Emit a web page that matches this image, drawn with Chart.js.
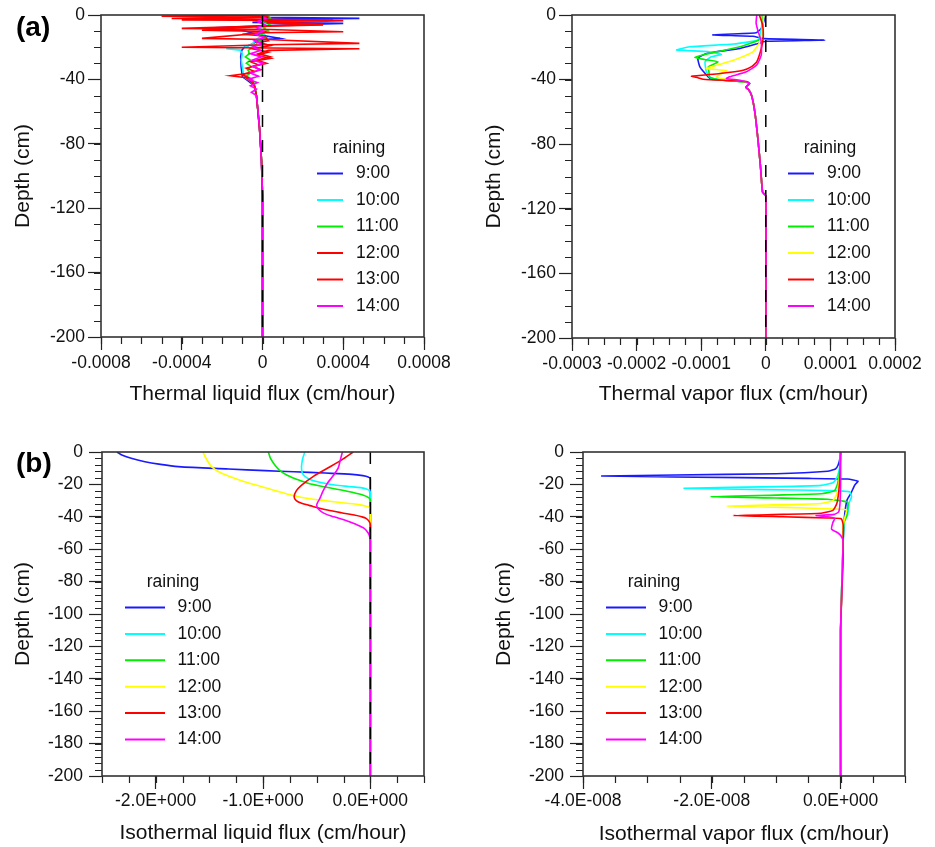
<!DOCTYPE html>
<html lang="en">
<head>
<meta charset="UTF-8" />
<title>Flux profiles</title>
<script src="https://cdn.jsdelivr.net/npm/chart.js"></script>
<style>
  body { margin: 0; background: #fff; }
  #wrap { position: relative; width: 935px; height: 847px; }
  canvas { position: absolute; }
</style>
</head>
<body>
<div id="wrap">
  <canvas id="tl" width="467" height="420" style="left:0;top:0"></canvas>
  <canvas id="tr" width="468" height="420" style="left:467px;top:0"></canvas>
  <canvas id="bl" width="467" height="427" style="left:0;top:420px"></canvas>
  <canvas id="br" width="468" height="427" style="left:467px;top:420px"></canvas>
</div>
<script>
const FONT = '"Liberation Sans", Arial, sans-serif';
Chart.defaults.font.family = FONT;

const timeLabels = ["9:00", "10:00", "11:00", "12:00", "13:00", "14:00"];
const colorsA = ["#1a1aff", "#00ffff", "#00ee00", "#ff0000", "#ff0000", "#ff00ff"];
const colorsB = ["#1a1aff", "#00ffff", "#00ee00", "#ffff00", "#ff0000", "#ff00ff"];

// axis ticks
const depthTicksA = [-200, -160, -120, -80, -40, 0];
const depthTicksB = [-200, -180, -160, -140, -120, -100, -80, -60, -40, -20, 0];
const tlXTicks = [-0.0008, -0.0004, 0, 0.0004, 0.0008];
const tlXLabels = ["-0.0008", "-0.0004", "0", "0.0004", "0.0008"];
const trXTicks = [-0.0003, -0.0002, -0.0001, 0, 0.0001, 0.0002];
const trXLabels = ["-0.0003", "-0.0002", "-0.0001", "0", "0.0001", "0.0002"];
const blXTicks = [-2, -1, 0];
const blXLabels = ["-2.0E+000", "-1.0E+000", "0.0E+000"];
const brXTicks = [-4e-8, -2e-8, 0];
const brXLabels = ["-4.0E-008", "-2.0E-008", "0.0E+000"];

// zero reference line
const zeroDepth = [0, -200];
const zeroFlux = [0, 0];

// (a) thermal liquid flux
const tl09Depth = [0, -1.5, -2.1, -2.7, -4.0, -4.6, -5.2, -6.5, -8.3, -9.5, -12, -14.5, -15.5, -18, -20, -22, -26, -32, -38.3, -41, -44, -50, -70, -90, -112, -200];
const tl09Flux = [0, 0.1e-4, 4.8e-4, 0.1e-4, 0.2e-4, -0.5e-4, 4.0e-4, 0.3e-4, -3.0e-4, -1.0e-4, -0.3e-4, 0.87e-4, -0.2e-4, -0.5e-4, -0.9e-4, -1.03e-4, -1.08e-4, -1.06e-4, -1.0e-4, -0.7e-4, -0.4e-4, -0.3e-4, -0.15e-4, -0.05e-4, 0, 0];
const tl10Depth = [0, -3, -6, -9, -12, -15, -18, -20, -21, -21.8, -24, -28, -32, -36, -38.5, -41, -44, -50, -70, -90, -112, -200];
const tl10Flux = [0.1e-4, -0.1e-4, 0.15e-4, -0.2e-4, 0.1e-4, -0.3e-4, -0.5e-4, -0.9e-4, -1.8e-4, -1.1e-4, -1.0e-4, -1.05e-4, -1.0e-4, -0.95e-4, -0.9e-4, -0.6e-4, -0.4e-4, -0.3e-4, -0.15e-4, -0.05e-4, 0, 0];
const tl11Depth = [0, -2, -4, -6, -8, -10, -12, -14, -16, -18, -20, -22, -24, -26, -28, -30, -32, -34, -36, -38, -40, -43, -50, -70, -90, -112, -200];
const tl11Flux = [0.2e-4, 0.4e-4, 0.1e-4, 0.35e-4, 0.05e-4, 0.3e-4, -0.1e-4, 0.2e-4, -0.2e-4, -0.3e-4, -0.5e-4, -0.7e-4, -0.65e-4, -0.85e-4, -0.6e-4, -0.8e-4, -0.55e-4, -0.75e-4, -0.6e-4, -0.8e-4, -0.5e-4, -0.4e-4, -0.3e-4, -0.15e-4, -0.05e-4, 0, 0];
const tl12Depth = [0, -0.8, -1.5, -3.0, -3.5, -5.0, -5.8, -8.3, -9.0, -10.4, -11, -14.5, -15.2, -17.6, -18.5, -20, -21, -22, -24, -26, -28, -30, -32, -34, -36, -37.7, -39, -41, -44, -50, -70, -90, -112, -200];
const tl12Flux = [0, -5.0e-4, 0.2e-4, -4.0e-4, 4.0e-4, 0.2e-4, 3.0e-4, -4.0e-4, 0.3e-4, 4.0e-4, 0.1e-4, -3.0e-4, 0.2e-4, 4.8e-4, 0.2e-4, -4.0e-4, 4.8e-4, 0.3e-4, -0.2e-4, 0.4e-4, -0.3e-4, 0.2e-4, -0.5e-4, -0.1e-4, -0.6e-4, -1.6e-4, -0.8e-4, -0.6e-4, -0.4e-4, -0.3e-4, -0.15e-4, -0.05e-4, 0, 0];
const tl13Depth = [0, -1, -2.2, -3.1, -4, -6.2, -7, -9.5, -10.2, -12, -13, -16, -17, -19, -21, -23, -25, -27, -29, -31, -33, -35, -37, -39, -41, -44, -50, -70, -90, -112, -200];
const tl13Flux = [0, 0.2e-4, -4.5e-4, 3.5e-4, 0.1e-4, 3.0e-4, 0.1e-4, -3.0e-4, 0.2e-4, -1.0e-4, 0.1e-4, 0.3e-4, -0.2e-4, 0.4e-4, -0.5e-4, 0.3e-4, -0.3e-4, 0.4e-4, -0.6e-4, -0.2e-4, -0.8e-4, -0.4e-4, -1.0e-4, -0.7e-4, -0.5e-4, -0.4e-4, -0.3e-4, -0.15e-4, -0.05e-4, 0, 0];
const tl14Depth = [0, -2, -4, -6, -8, -10, -12, -14, -16, -18, -20, -22, -24, -26, -28, -30, -32, -34, -36, -38, -40, -42, -44, -46, -48, -50, -60, -70, -84, -100, -112, -200];
const tl14Flux = [-0.1e-4, 0.15e-4, -0.25e-4, 0.1e-4, -0.3e-4, 0.05e-4, -0.35e-4, 0.1e-4, -0.4e-4, 0, -0.5e-4, -0.1e-4, -0.6e-4, -0.05e-4, -0.5e-4, 0.05e-4, -0.45e-4, -0.1e-4, -0.6e-4, -0.2e-4, -0.7e-4, -0.25e-4, -0.6e-4, -0.3e-4, -0.55e-4, -0.3e-4, -0.22e-4, -0.15e-4, -0.08e-4, -0.03e-4, 0, 0];

// (a) thermal vapor flux
const tr09Depth = [0, -4, -8.3, -11, -12.3, -13.2, -14.6, -15.5, -16.3, -18, -20.7, -23.8, -26.9, -32.1, -38.3, -39.7, -41.4, -42.4, -44.8, -46, -49.8, -60, -77.6, -95, -109.7, -112, -200];
const tr09Flux = [0, -0.03e-4, -0.07e-4, -0.15e-4, -0.82e-4, -0.2e-4, -0.02e-4, 0.91e-4, 0, -0.15e-4, -0.4e-4, -0.92e-4, -1.05e-4, -1.02e-4, -0.89e-4, -0.84e-4, -0.3e-4, -0.25e-4, -0.31e-4, -0.27e-4, -0.22e-4, -0.17e-4, -0.12e-4, -0.08e-4, -0.05e-4, 0, 0];
const tr10Depth = [0, -5, -11, -15.5, -18, -19.7, -21.7, -22.6, -24.4, -26, -29, -35.2, -38.3, -39.5, -41, -42.4, -44.8, -46, -49.8, -60, -77.6, -95, -109.7, -112, -200];
const tr10Flux = [-0.07e-4, -0.06e-4, -0.08e-4, -0.12e-4, -0.5e-4, -1.18e-4, -1.38e-4, -0.9e-4, -0.69e-4, -0.85e-4, -0.94e-4, -0.92e-4, -0.87e-4, -0.8e-4, -0.4e-4, -0.25e-4, -0.31e-4, -0.27e-4, -0.22e-4, -0.17e-4, -0.12e-4, -0.08e-4, -0.05e-4, 0, 0];
const tr11Depth = [0, -6, -12, -15, -19.7, -22.8, -24.5, -26.3, -27.5, -29, -32.1, -35, -38.5, -40, -41.5, -42.4, -44.8, -46, -49.8, -60, -77.6, -95, -109.7, -112, -200];
const tr11Flux = [-0.04e-4, -0.05e-4, -0.06e-4, -0.08e-4, -0.4e-4, -0.76e-4, -0.95e-4, -1.1e-4, -0.95e-4, -0.74e-4, -0.89e-4, -0.88e-4, -0.87e-4, -0.75e-4, -0.35e-4, -0.25e-4, -0.31e-4, -0.27e-4, -0.22e-4, -0.17e-4, -0.12e-4, -0.08e-4, -0.05e-4, 0, 0];
const tr12Depth = [0, -8, -16.6, -22.8, -28, -31, -33.1, -34.5, -36.5, -38.5, -40, -41.5, -42.4, -44.8, -46, -49.8, -60, -77.6, -95, -109.7, -112, -200];
const tr12Flux = [-0.03e-4, -0.05e-4, -0.09e-4, -0.2e-4, -0.5e-4, -0.75e-4, -0.92e-4, -0.61e-4, -0.7e-4, -0.76e-4, -0.6e-4, -0.3e-4, -0.25e-4, -0.31e-4, -0.27e-4, -0.22e-4, -0.17e-4, -0.12e-4, -0.08e-4, -0.05e-4, 0, 0];
const tr13Depth = [0, -6, -14, -20.7, -29, -32, -34.2, -36.2, -37.9, -38.8, -39.8, -41.2, -42.4, -44.8, -46, -49.8, -60, -77.6, -95, -109.7, -112, -200];
const tr13Flux = [-0.1e-4, -0.05e-4, -0.04e-4, -0.07e-4, -0.14e-4, -0.22e-4, -0.35e-4, -0.71e-4, -1.15e-4, -1.05e-4, -0.97e-4, -0.3e-4, -0.25e-4, -0.31e-4, -0.27e-4, -0.22e-4, -0.17e-4, -0.12e-4, -0.08e-4, -0.05e-4, 0, 0];
const tr14Depth = [0, -5, -10, -16.6, -24.8, -31, -35.2, -38.3, -39.3, -40.4, -41.5, -42.4, -44.8, -46, -49.8, -60, -77.6, -95, -109.7, -112, -200];
const tr14Flux = [-0.14e-4, -0.15e-4, -0.12e-4, -0.07e-4, -0.07e-4, -0.14e-4, -0.3e-4, -0.56e-4, -0.61e-4, -0.4e-4, -0.3e-4, -0.25e-4, -0.31e-4, -0.27e-4, -0.22e-4, -0.17e-4, -0.12e-4, -0.08e-4, -0.05e-4, 0, 0];

// (b) isothermal liquid flux
const bl09Depth = [0, -2, -4, -6, -7.5, -9, -10.5, -11.5, -12.2, -13, -13.8, -14.6, -15.4, -16.5, -200];
const bl09Flux = [-2.36, -2.31, -2.22, -2.1, -1.97, -1.79, -1.32, -0.98, -0.71, -0.42, -0.17, -0.07, -0.02, 0, 0];
const bl10Depth = [0, -4, -8, -11, -13.5, -15.5, -17.3, -19, -20.4, -21.3, -22, -23, -24.5, -200];
const bl10Flux = [-0.61, -0.63, -0.64, -0.64, -0.63, -0.6, -0.55, -0.45, -0.33, -0.2, -0.09, -0.03, 0, 0];
const bl11Depth = [0, -4, -8, -11, -14.2, -17, -19.3, -21.5, -23.5, -25, -26.5, -28, -29.5, -200];
const bl11Flux = [-0.95, -0.93, -0.89, -0.85, -0.78, -0.68, -0.58, -0.43, -0.27, -0.16, -0.07, -0.02, 0, 0];
const bl12Depth = [0, -4, -9, -13, -16.3, -19, -21.4, -24, -27, -29, -30.2, -31.5, -32.5, -33.5, -35, -200];
const bl12Flux = [-1.56, -1.53, -1.48, -1.39, -1.26, -1.14, -1.01, -0.88, -0.71, -0.55, -0.4, -0.24, -0.11, -0.04, 0, 0];
const bl13Depth = [0, -5, -10, -15, -20.4, -24, -27.6, -30, -31.7, -33.5, -35.8, -37.5, -38.9, -40, -41, -43, -45, -200];
const bl13Flux = [-0.16, -0.27, -0.4, -0.53, -0.64, -0.69, -0.71, -0.69, -0.64, -0.54, -0.4, -0.27, -0.15, -0.08, -0.04, -0.01, 0, 0];
const bl14Depth = [0, -5, -10, -15, -19.3, -24, -28.6, -32.7, -35.5, -37.9, -40, -42, -44.5, -47, -50, -52.5, -55, -200];
const bl14Flux = [-0.26, -0.28, -0.3, -0.35, -0.4, -0.44, -0.47, -0.5, -0.48, -0.43, -0.34, -0.24, -0.14, -0.06, -0.02, -0.005, 0, 0];

// (b) isothermal vapor flux
const br09Depth = [0, -4, -8.2, -10.5, -11.9, -13.4, -14.2, -14.8, -15.4, -16.3, -16.7, -18, -20.4, -25.5, -29.6, -40, -55, -110, -200];
const br09Flux = [0, -0.01e-8, -0.04e-8, -0.08e-8, -0.2e-8, -1.0e-8, -2.57e-8, -3.71e-8, -2.6e-8, -0.5e-8, 0.11e-8, 0.27e-8, 0.22e-8, 0.16e-8, 0.1e-8, 0.06e-8, 0.04e-8, 0, 0];
const br10Depth = [0, -8, -12.4, -16, -19, -20.6, -21.4, -22.4, -23.2, -23.8, -24.5, -27.6, -31.7, -38.9, -42, -55, -110, -200];
const br10Flux = [0, -0.01e-8, -0.03e-8, -0.06e-8, -0.12e-8, -0.3e-8, -1.0e-8, -2.43e-8, -1.2e-8, -0.2e-8, 0.14e-8, 0.17e-8, 0.13e-8, 0.11e-8, 0.06e-8, 0.04e-8, 0, 0];
const br11Depth = [0, -10, -16, -20, -24, -25.8, -26.6, -27.6, -28.4, -29.2, -30.9, -34, -38, -41, -44, -55, -110, -200];
const br11Flux = [0, -0.01e-8, -0.03e-8, -0.05e-8, -0.1e-8, -0.3e-8, -1.0e-8, -2.02e-8, -1.0e-8, -0.2e-8, 0.11e-8, 0.11e-8, 0.1e-8, 0.08e-8, 0.05e-8, 0.04e-8, 0, 0];
const br12Depth = [0, -12, -20, -26, -30, -31.8, -32.5, -33.4, -34.2, -35, -35.7, -37, -39.8, -43, -47, -55, -110, -200];
const br12Flux = [0, -0.01e-8, -0.03e-8, -0.06e-8, -0.12e-8, -0.3e-8, -0.9e-8, -1.77e-8, -0.9e-8, -0.2e-8, 0.09e-8, 0.09e-8, 0.07e-8, 0.05e-8, 0.04e-8, 0.04e-8, 0, 0];
const br13Depth = [0, -15, -25, -32, -36, -37.8, -38.5, -39.2, -40, -40.7, -41.2, -44.9, -55, -65, -110, -200];
const br13Flux = [0, -0.01e-8, -0.03e-8, -0.06e-8, -0.12e-8, -0.3e-8, -0.9e-8, -1.67e-8, -0.9e-8, -0.2e-8, 0.01e-8, 0.04e-8, 0.04e-8, 0.04e-8, 0, 0];
const br14Depth = [0, -20, -32, -37, -38.5, -39.2, -40, -41, -43.5, -47.6, -50, -52, -55, -110, -200];
const br14Flux = [0, 0, -0.01e-8, -0.03e-8, -0.1e-8, -0.38e-8, -0.2e-8, -0.09e-8, -0.12e-8, -0.14e-8, -0.04e-8, 0.01e-8, 0.04e-8, 0, 0];

// frame, minor ticks, legend box and panel tag
const panelDecor = {
  id: "panelDecor",
  afterDraw(chart, args, o) {
    const { ctx, chartArea: a, scales: { x, y } } = chart;
    ctx.save();
    ctx.strokeStyle = "#222";
    ctx.lineWidth = 1.2;
    ctx.beginPath();
    const nx = Math.round((x.max - x.min) / o.xMinor);
    for (let i = 0; i <= nx; i++) {
      const px = Math.round(x.getPixelForValue(x.min + i * o.xMinor)) + 0.5;
      ctx.moveTo(px, a.bottom);
      ctx.lineTo(px, a.bottom + 7);
    }
    const ny = Math.round((y.max - y.min) / o.yMinor);
    for (let i = 0; i <= ny; i++) {
      const py = Math.round(y.getPixelForValue(y.min + i * o.yMinor)) + 0.5;
      ctx.moveTo(a.left, py);
      ctx.lineTo(a.left - 7, py);
    }
    ctx.stroke();

    ctx.strokeStyle = "#333";
    ctx.lineWidth = 1.6;
    ctx.strokeRect(a.left, a.top, a.right - a.left, a.bottom - a.top);

    const L = o.legend;
    ctx.fillStyle = "#111";
    ctx.font = "17.5px " + FONT;
    ctx.textBaseline = "middle";
    ctx.textAlign = "center";
    ctx.fillText("raining", a.left + L.titleX, a.top + L.titleY);
    ctx.textAlign = "left";
    chart.data.datasets.filter(d => d.label).forEach((d, i) => {
      const yy = a.top + L.rowY + i * L.rowGap;
      ctx.strokeStyle = d.borderColor;
      ctx.lineWidth = 2;
      ctx.beginPath();
      ctx.moveTo(a.left + L.lineX0, yy);
      ctx.lineTo(a.left + L.lineX1, yy);
      ctx.stroke();
      ctx.fillText(d.label, a.left + L.textX, yy);
    });

    if (o.tag) {
      ctx.font = "bold 28px " + FONT;
      ctx.fillStyle = "#000";
      ctx.fillText(o.tag.text, o.tag.x, o.tag.y);
    }
    ctx.restore();
  }
};

function makePanel(id, p) {
  const datasets = p.series.map((s, i) => ({
    label: timeLabels[i],
    data: s[0].map((d, k) => ({ x: s[1][k], y: d })),
    borderColor: p.colors[i],
    borderWidth: 1.6,
    pointRadius: 0,
    showLine: true,
    tension: p.tension,
    order: p.series.length - i
  }));
  if (p.zeroLine) {
    datasets.push({
      data: zeroDepth.map((d, k) => ({ x: zeroFlux[k], y: d })),
      borderColor: "#000",
      borderWidth: 1.5,
      borderDash: [12, 13],
      pointRadius: 0,
      showLine: true,
      order: 0
    });
  }
  new Chart(document.getElementById(id), {
    type: "scatter",
    data: { datasets },
    options: {
      responsive: false,
      animation: false,
      events: [],
      layout: { padding: { left: 0, top: p.padTop, right: p.padRight, bottom: 0 } },
      scales: {
        x: {
          type: "linear",
          position: "bottom",
          min: p.xMin,
          max: p.xMax,
          afterBuildTicks: s => { s.ticks = p.xTicks.map(v => ({ value: v })); },
          afterFit: s => { s.height = p.xHeight; s.paddingLeft = 0; s.paddingRight = 0; },
          grid: { drawOnChartArea: false, tickLength: 13, tickColor: "#222", tickWidth: 1.2 },
          border: { display: false },
          ticks: {
            autoSkip: false, maxRotation: 0, minRotation: 0, padding: p.xTickPad,
            font: { size: 17.5 }, color: "#111",
            callback: (v, i) => p.xLabels[i]
          },
          title: { display: true, text: p.xTitle, font: { size: 21 }, color: "#111", padding: { top: 0, bottom: p.xTitlePad } }
        },
        y: {
          type: "linear",
          position: "left",
          min: -200,
          max: 0,
          afterBuildTicks: s => { s.ticks = p.yTicks.map(v => ({ value: v })); },
          afterFit: s => { s.width = p.yWidth; s.paddingTop = 0; s.paddingBottom = 0; },
          grid: { drawOnChartArea: false, tickLength: 13, tickColor: "#222", tickWidth: 1.2 },
          border: { display: false },
          ticks: {
            autoSkip: false, padding: p.yTickPad,
            font: { size: 17.5 }, color: "#111",
            callback: v => String(v)
          },
          title: { display: true, text: "Depth (cm)", font: { size: 21 }, color: "#111", padding: { top: p.yTitlePad, bottom: 0 } }
        }
      },
      plugins: {
        legend: { display: false },
        tooltip: { enabled: false },
        panelDecor: { xMinor: p.xMinor, yMinor: p.yMinor, legend: p.legend, tag: p.tag }
      }
    },
    plugins: [panelDecor]
  });
}

const legendA = { titleX: 258, titleY: 133.5, rowY: 158.5, rowGap: 26.5, lineX0: 216, lineX1: 242, textX: 255 };
const legendB = { titleX: 71, titleY: 130, rowY: 155.5, rowGap: 26.4, lineX0: 23, lineX1: 63, textX: 75.5 };

makePanel("tl", {
  series: [[tl09Depth, tl09Flux], [tl10Depth, tl10Flux], [tl11Depth, tl11Flux], [tl12Depth, tl12Flux], [tl13Depth, tl13Flux], [tl14Depth, tl14Flux]],
  colors: colorsA, tension: 0, zeroLine: true,
  xMin: -0.0008, xMax: 0.0008, xTicks: tlXTicks, xLabels: tlXLabels, xMinor: 0.0001,
  yTicks: depthTicksA, yMinor: 10,
  padTop: 15, padRight: 43, yWidth: 101, xHeight: 83,
  xTickPad: 3, yTickPad: 3, xTitlePad: 13.4, yTitlePad: 10.4,
  xTitle: "Thermal liquid flux (cm/hour)",
  legend: legendA, tag: { text: "(a)", x: 16, y: 28 }
});

makePanel("tr", {
  series: [[tr09Depth, tr09Flux], [tr10Depth, tr10Flux], [tr11Depth, tr11Flux], [tr12Depth, tr12Flux], [tr13Depth, tr13Flux], [tr14Depth, tr14Flux]],
  colors: colorsB, tension: 0.15, zeroLine: true,
  xMin: -0.0003, xMax: 0.0002, xTicks: trXTicks, xLabels: trXLabels, xMinor: 0.000025,
  yTicks: depthTicksA, yMinor: 10,
  padTop: 15, padRight: 40, yWidth: 105, xHeight: 82,
  xTickPad: 3, yTickPad: 3, xTitlePad: 13.4, yTitlePad: 14.9,
  xTitle: "Thermal vapor flux (cm/hour)",
  legend: legendA
});

makePanel("bl", {
  series: [[bl09Depth, bl09Flux], [bl10Depth, bl10Flux], [bl11Depth, bl11Flux], [bl12Depth, bl12Flux], [bl13Depth, bl13Flux], [bl14Depth, bl14Flux]],
  colors: colorsB, tension: 0.3, zeroLine: true,
  xMin: -2.5, xMax: 0.5, xTicks: blXTicks, xLabels: blXLabels, xMinor: 0.25,
  yTicks: depthTicksB, yMinor: 4,
  padTop: 32, padRight: 43, yWidth: 102, xHeight: 71,
  xTickPad: 2, yTickPad: 6, xTitlePad: 1.4, yTitlePad: 10.9,
  xTitle: "Isothermal liquid flux (cm/hour)",
  legend: legendB, tag: { text: "(b)", x: 16, y: 44.5 }
});

makePanel("br", {
  series: [[br09Depth, br09Flux], [br10Depth, br10Flux], [br11Depth, br11Flux], [br12Depth, br12Flux], [br13Depth, br13Flux], [br14Depth, br14Flux]],
  colors: colorsB, tension: 0.15, zeroLine: false,
  xMin: -4e-8, xMax: 1e-8, xTicks: brXTicks, xLabels: brXLabels, xMinor: 5e-9,
  yTicks: depthTicksB, yMinor: 4,
  padTop: 32, padRight: 30, yWidth: 116, xHeight: 71,
  xTickPad: 2, yTickPad: 6, xTitlePad: 0.4, yTitlePad: 24.4,
  xTitle: "Isothermal vapor flux (cm/hour)",
  legend: legendB
});
</script>
</body>
</html>
